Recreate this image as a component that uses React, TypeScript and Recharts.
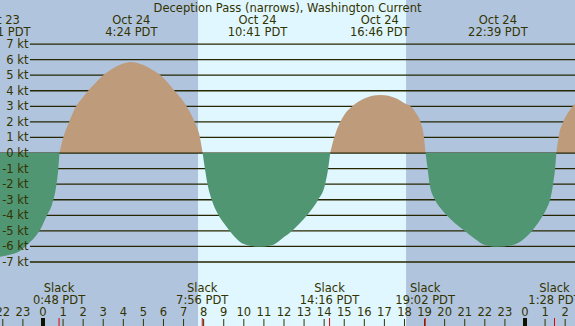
import React from 'react';
import { ComposedChart, Area, XAxis, YAxis, ReferenceArea, ReferenceLine } from 'recharts';

const TITLE = 'Deception Pass (narrows), Washington Current';

// hours after midnight Oct 24 (PDT) and current in knots (+ flood / - ebb)
const hours = [
  -2.2, -1.7, -1.15, -0.8, -0.4, -0.15, 0.2, 0.45, 0.65, 0.75, 0.82,
  1.0, 1.3, 1.65, 2.0, 2.25, 2.5, 3.0, 3.5, 4.0, 4.4, 5.0, 5.5, 5.85, 6.2, 6.55, 7.0, 7.15, 7.55, 7.8, 7.95,
  8.05, 8.2, 8.4, 8.7, 9.0, 9.3, 9.6, 10.0, 10.7, 11.45, 12.0, 12.4, 12.8, 13.15, 13.45, 13.7, 14.05, 14.2, 14.3,
  14.5, 14.8, 15.0, 15.4, 16.0, 16.8, 17.6, 18.0, 18.35, 18.6, 18.8, 18.97, 19.05,
  19.15, 19.25, 19.5, 19.8, 20.1, 20.5, 21.0, 21.5, 22.0, 22.65, 23.4, 24.0, 24.35, 24.65, 24.9, 25.1, 25.25, 25.4, 25.5, 25.56,
  25.7, 25.9, 26.2, 26.55,
];
const knots = [
  -6.68, -6.55, -6.3, -5.9, -5.4, -4.95, -4.0, -3.3, -2.2, -1.2, 0,
  0.95, 2.0, 3.0, 3.6, 4.0, 4.35, 5.0, 5.45, 5.75, 5.85, 5.65, 5.3, 5.0, 4.55, 4.0, 3.3, 3.0, 2.0, 1.1, 0,
  -0.9, -2.05, -3.0, -3.9, -4.5, -5.0, -5.45, -5.85, -6.02, -5.9, -5.4, -5.0, -4.5, -4.0, -3.5, -3.0, -2.0, -1.0, 0,
  1.0, 2.0, 2.45, 3.0, 3.5, 3.72, 3.5, 3.2, 2.95, 2.5, 2.0, 1.0, 0,
  -1.0, -2.0, -2.95, -3.55, -4.0, -4.5, -5.0, -5.5, -5.9, -6.02, -5.9, -5.45, -5.0, -4.5, -4.0, -3.5, -3.0, -2.0, -1.0, 0,
  1.2, 2.0, 2.7, 3.25,
];

const sunrise = 7.72;
const sunset = 18.08;

const maxTimes = [-2.1, 4.4, 10.68, 16.77, 22.65];
const maxDates = ['Oct 23', 'Oct 24', 'Oct 24', 'Oct 24', 'Oct 24'];
const maxLabels = ['21:51 PDT', '4:24 PDT', '10:41 PDT', '16:46 PDT', '22:39 PDT'];

const slackTimes = [0.8, 7.93, 14.27, 19.03, 25.47];
const slackLabels = ['0:48 PDT', '7:56 PDT', '14:16 PDT', '19:02 PDT', '1:28 PDT'];

const hourTicks = [-2, -1, 0, 1, 2, 3, 4, 5, 6, 7, 8, 9, 10, 11, 12, 13, 14, 15, 16, 17, 18, 19, 20, 21, 22, 23, 24, 25, 26];
const knotTicks = [-7, -6, -5, -4, -3, -2, -1, 0, 1, 2, 3, 4, 5, 6, 7];

const X_DOMAIN = [-2.14, 26.49];
const Y_DOMAIN = [-11.11, 9.83];
const GRID_START = -0.65;

const NIGHT = '#b0c4de';
const DAY = '#e0f7ff';
const FLOOD = '#bd9b7b';
const EBB = '#509673';
const INK = '#333300';
const LINE = '#262600';
const FONT = '"DejaVu Sans", sans-serif';
const FS = 11.5;

const data = hours.map((h, i) => ({
  h,
  flood: knots[i] >= 0 ? knots[i] : null,
  ebb: knots[i] <= 0 ? knots[i] : null,
}));

const txt = { fill: INK, fontFamily: FONT, fontSize: FS } as const;

function HourTick(props: any) {
  const { x, payload } = props;
  const v = payload.value as number;
  const label = ((v % 24) + 24) % 24;
  const midnight = label === 0;
  return (
    <g>
      <text x={x} y={316} textAnchor="middle" {...txt}>{label}</text>
      <line x1={x} x2={x} y1={midnight ? 318 : 319} y2={326} stroke={midnight ? '#111100' : INK} strokeWidth={midnight ? 4 : 1} />
    </g>
  );
}

function SlackTick(props: any) {
  const { x, index } = props;
  return (
    <g>
      <text x={x} y={292} textAnchor="middle" {...txt}>Slack</text>
      <text x={x} y={304} textAnchor="middle" {...txt}>{slackLabels[index]}</text>
      <line x1={x} x2={x} y1={318} y2={326} stroke="#e00000" strokeWidth={1} />
    </g>
  );
}

function MaxTick(props: any) {
  const { x, index } = props;
  return (
    <g>
      <text x={x} y={24} textAnchor="middle" {...txt}>{maxDates[index]}</text>
      <text x={x} y={36} textAnchor="middle" {...txt}>{maxLabels[index]}</text>
    </g>
  );
}

function KnotTick(props: any) {
  const { y, payload } = props;
  return (
    <text x={28.5} y={y} dy={4} textAnchor="end" {...txt}>{`${payload.value} kt`}</text>
  );
}

export default function App() {
  return (
    <div style={{ position: 'fixed', left: 0, top: 0, width: 575, height: 326, background: NIGHT, overflow: 'hidden' }}>
      <ComposedChart width={575} height={326} data={data} margin={{ top: -1, right: 0, bottom: -2, left: -1 }}>
        <ReferenceArea x1={sunrise} x2={sunset} fill={DAY} fillOpacity={1} stroke="none" zIndex={-150} />
        {knotTicks.filter((k) => k !== 0).map((k) => (
          <ReferenceLine
            key={k}
            segment={[{ x: GRID_START, y: k }, { x: X_DOMAIN[1], y: k }]}
            stroke={LINE}
            strokeWidth={1.3}
            zIndex={-120}
          />
        ))}
        <Area dataKey="flood" type="monotone" stroke="none" fill={FLOOD} fillOpacity={1} isAnimationActive={false} zIndex={100} />
        <ReferenceLine y={0} stroke={LINE} strokeWidth={1.3} zIndex={150} />
        <Area dataKey="ebb" type="monotone" stroke="none" fill={EBB} fillOpacity={1} isAnimationActive={false} zIndex={200} />
        <XAxis
          dataKey="h"
          type="number"
          domain={X_DOMAIN}
          allowDataOverflow
          ticks={hourTicks}
          interval={0}
          height={1}
          axisLine={false}
          tickLine={false}
          tick={(p: any) => <HourTick {...p} />}
        />
        <XAxis
          xAxisId="slack"
          dataKey="h"
          type="number"
          domain={X_DOMAIN}
          allowDataOverflow
          ticks={slackTimes}
          interval={0}
          height={1}
          axisLine={false}
          tickLine={false}
          tick={(p: any) => <SlackTick {...p} />}
        />
        <XAxis
          xAxisId="max"
          orientation="top"
          dataKey="h"
          type="number"
          domain={X_DOMAIN}
          allowDataOverflow
          ticks={maxTimes}
          interval={0}
          height={1}
          axisLine={false}
          tickLine={false}
          tick={(p: any) => <MaxTick {...p} />}
        />
        <YAxis
          type="number"
          domain={Y_DOMAIN}
          allowDataOverflow
          ticks={knotTicks}
          interval={0}
          width={1}
          axisLine={false}
          tickLine={false}
          tick={(p: any) => <KnotTick {...p} />}
        />
      </ComposedChart>
      <div style={{ position: 'absolute', left: 0, top: 1, width: 575, textAlign: 'center', fontFamily: FONT, fontSize: FS, lineHeight: '14px', color: INK }}>
        {TITLE}
      </div>
    </div>
  );
}
